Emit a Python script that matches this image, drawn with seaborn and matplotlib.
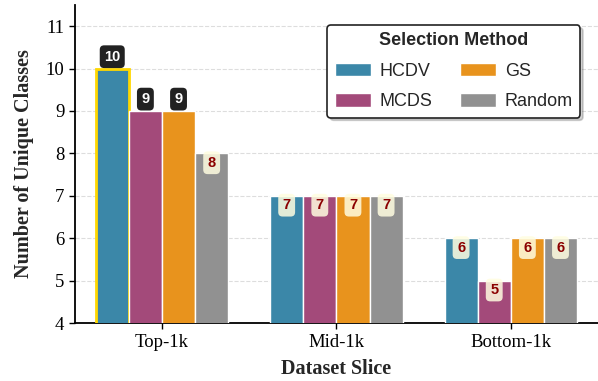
import matplotlib
matplotlib.use("Agg")
import matplotlib.pyplot as plt
import seaborn as sns
import pandas as pd

slices = ["Top-1k", "Mid-1k", "Bottom-1k"]
methods = ["HCDV", "MCDS", "GS", "Random"]
values = {
    "HCDV": [10, 7, 6],
    "MCDS": [9, 7, 5],
    "GS": [9, 7, 6],
    "Random": [8, 7, 6],
}
colors = ["#3B87A8", "#A34A7A", "#E8931D", "#919191"]

rows = []
for m in methods:
    for s, v in zip(slices, values[m]):
        rows.append({"Dataset Slice": s, "Method": m, "Value": v})
df = pd.DataFrame(rows)

sns.set_style("ticks")
plt.rcParams["font.family"] = ["Liberation Serif", "DejaVu Serif"]

fig = plt.figure(figsize=(5.98, 3.81), dpi=100)
ax = fig.add_axes([0.125, 0.152, 0.875, 0.835])

sns.barplot(data=df, x="Dataset Slice", y="Value", hue="Method",
            hue_order=methods, order=slices, palette=colors,
            width=0.76, edgecolor="white", linewidth=1.0, saturation=1,
            ax=ax, zorder=3)

ax.set_ylim(4, 11.5)
ax.set_xlim(-0.5, 2.5)
ax.set_yticks(range(4, 12))
ax.yaxis.grid(True, linestyle="--", color="#dddddd", linewidth=0.8, zorder=0)
ax.set_axisbelow(True)
for sp in ["top", "right"]:
    ax.spines[sp].set_visible(False)
for sp in ["left", "bottom"]:
    ax.spines[sp].set_color("black")
    ax.spines[sp].set_linewidth(1.3)
ax.tick_params(axis="both", labelsize=13.5, colors="black", length=4, width=1)
ax.set_xlabel("Dataset Slice", fontsize=14.5, fontweight="bold", labelpad=6)
ax.set_ylabel("Number of Unique Classes", fontsize=14.5, fontweight="bold",
              labelpad=8)

maxv = df["Value"].max()
for cont, m in zip(ax.containers, methods):
    for bar, v in zip(cont, values[m]):
        x = bar.get_x() + bar.get_width() / 2
        if v == maxv:
            bar.set_edgecolor("#FFD700")
            bar.set_linewidth(2.0)
        if v >= 9:
            ax.text(x, v + 0.28, str(v), ha="center", va="center",
                    fontsize=10.5, fontweight="bold", color="white",
                    family=["Liberation Sans", "DejaVu Sans"], zorder=6,
                    bbox=dict(boxstyle="round,pad=0.3", fc="#222222", ec="none"))
        else:
            ax.text(x, v - 0.22, str(v), ha="center", va="center",
                    fontsize=10.5, fontweight="bold", color="#8B0000",
                    family=["Liberation Sans", "DejaVu Sans"], zorder=6,
                    bbox=dict(boxstyle="round,pad=0.3", fc="#FFFDE0",
                              ec="none", alpha=0.85))

leg = ax.legend(title="Selection Method", ncol=2, loc="upper right",
                bbox_to_anchor=(0.966, 0.937), borderaxespad=0,
                frameon=True, fancybox=True,
                shadow={"alpha": 0.25, "ox": 2, "oy": -2},
                prop={"family": ["Liberation Sans"], "size": 13},
                handlelength=2.0, handleheight=0.75, columnspacing=1.5,
                labelspacing=0.75, borderpad=0.4, handletextpad=0.5)
leg.get_title().set_fontweight("bold")
leg.get_title().set_fontsize(13)
leg.get_title().set_family(["Liberation Sans"])
leg.get_frame().set_edgecolor("#222222")
leg.get_frame().set_linewidth(1.2)
leg.get_frame().set_alpha(1)

fig.savefig("out.png", dpi=100)
